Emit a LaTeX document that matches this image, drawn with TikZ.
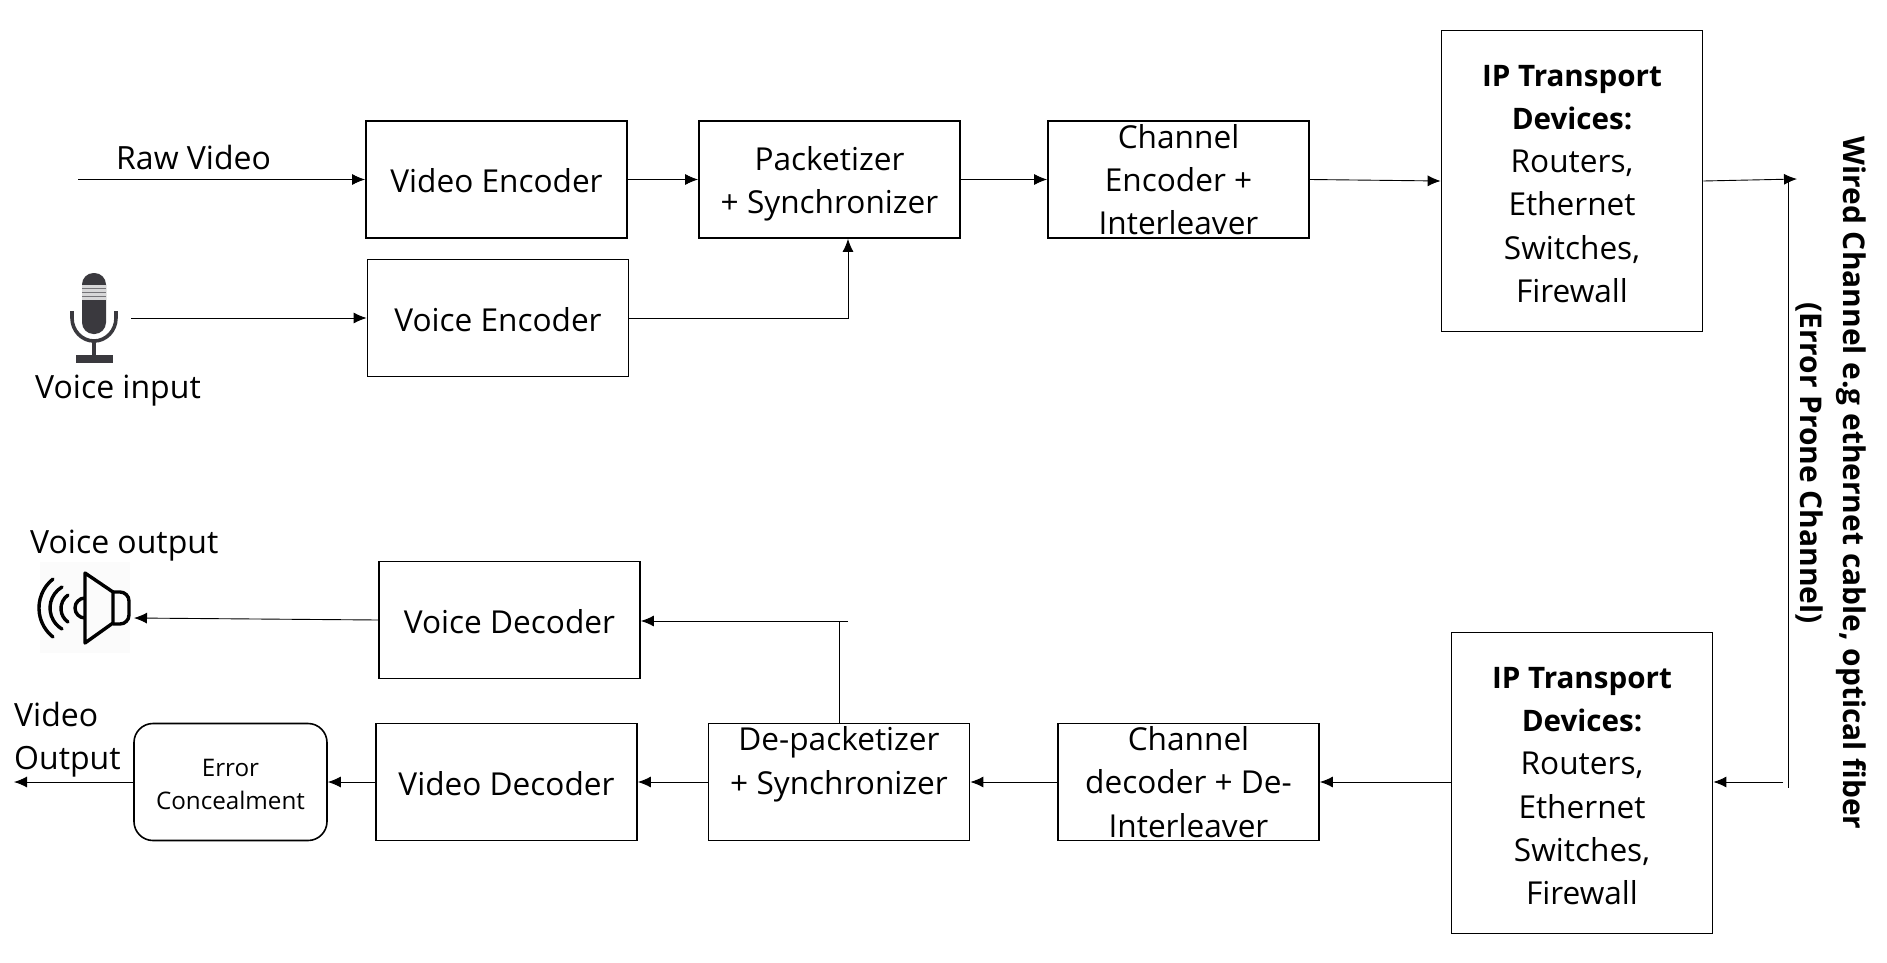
\documentclass[tikz,border=0pt]{standalone}
\usepackage{fontspec}
\setmainfont{Open Sans}
\usetikzlibrary{arrows.meta}
\newcommand{\ipbold}[1]{{\fontsize{29.6}{43.3}\selectfont\textbf{#1}}}
\tikzset{
 x=1pt,y=-1pt,
 blockbox/.style={draw=black,line width=1.8pt,align=center,inner sep=0pt,font=\fontsize{31.6}{43.3}\selectfont,anchor=center},
 lbl/.style={inner sep=0pt,align=left,font=\fontsize{32}{43.3}\selectfont,anchor=west},
 conn/.style={line width=0.9pt,-{Latex[length=13pt,width=11pt]}},
 plain/.style={line width=0.9pt},
}
\definecolor{ink}{HTML}{3A393E}
\begin{document}
\begin{tikzpicture}
\useasboundingbox (0,0) rectangle (1887,963);
\fill[white] (0,0) rectangle (1887,963);
% top row
\node[blockbox,minimum width=261pt,minimum height=117pt] (venc) at (496.5,179.5) {\rule{0pt}{27pt}Video Encoder};
\node[blockbox,minimum width=261pt,minimum height=117pt] (pack) at (829.5,179.5) {\rule{0pt}{32pt}Packetizer\\+ Synchronizer};
\node[blockbox,minimum width=261pt,minimum height=117pt] (cenc) at (1178.5,179.5) {Channel\\Encoder +\\Interleaver};
\node[blockbox,minimum width=261pt,minimum height=117pt] (aenc) at (498,318) {\rule{0pt}{27pt}Voice Encoder};
\node[blockbox,minimum width=261pt,minimum height=301pt] (ip1) at (1572,181) {\rule{0pt}{27pt}\ipbold{IP Transport}\\\ipbold{Devices:}\\Routers,\\Ethernet\\Switches,\\Firewall};
% bottom row
\node[blockbox,minimum width=261pt,minimum height=301pt] (ip2) at (1582,783) {\rule{0pt}{27pt}\ipbold{IP Transport}\\\ipbold{Devices:}\\Routers,\\Ethernet\\Switches,\\Firewall};
\node[blockbox,minimum width=261pt,minimum height=117pt] (cdec) at (1188.5,782) {Channel\\decoder + De-\\Interleaver};
\node[blockbox,minimum width=261pt,minimum height=117pt] (depack) at (839,782) {De-packetizer\\+ Synchronizer\rule[-43pt]{0pt}{0pt}};
\node[blockbox,minimum width=261pt,minimum height=117pt] (vdec) at (506.5,782) {\rule{0pt}{27pt}Video Decoder};
\node[blockbox,minimum width=261pt,minimum height=117pt] (adec) at (509.5,620) {\rule{0pt}{27pt}Voice Decoder};
\node[draw=black,line width=1.6pt,rounded corners=19pt,minimum width=193pt,minimum height=117pt,inner sep=0pt,align=center,font=\fontsize{24.2}{33.5}\selectfont] (err) at (230.5,782) {\rule{0pt}{22pt}Error\\Concealment};
% labels
\node[lbl] (rawl) at (116,157) {Raw Video};
\node[lbl] (voicel) at (35,391) {Voice input};
\node[lbl] (voutl) at (30,546) {Voice output};
\node[lbl] (videol) at (14,740) {Video\\Output};
\node[inner sep=0pt,align=center,rotate=-90,font=\fontsize{29.9}{42.5}\selectfont\bfseries] (wired) at (1831,483) {Wired Channel e.g ethernet cable, optical fiber\\(Error Prone Channel)\hspace*{40pt}};
% free ends
\coordinate (rawstart) at (78,179.5);
\coordinate (micend) at (131,318);
\coordinate (spk) at (134,618);
\coordinate (outend) at (14,782);
\coordinate (tap1) at (1797,179);
\coordinate (tap2) at (1788,180);
\coordinate (chanbot) at (1788,788);
\coordinate (chanend) at (1783,782);
\coordinate (branch) at (848,621);
\coordinate (join) at (839,621);
\coordinate (up) at (848,318);
% connectors
\draw[conn] (rawstart) -- (venc.west);
\draw[conn] (micend) -- (aenc.west);
\draw[conn] (venc.east) -- (pack.west);
\draw[conn] (pack.east) -- (cenc.west);
\draw[conn] (cenc.east) -- (ip1.west);
\draw[conn] (aenc.east) -- (up) -- (up |- pack.south);
\draw[conn] (ip1.east) -- (tap1);
\draw[plain] (tap2) -- (chanbot);
\draw[conn] (chanend) -- (ip2.east |- chanend);
\draw[conn] (ip2.west |- cdec.east) -- (cdec.east);
\draw[conn] (cdec.west) -- (depack.east);
\draw[conn] (depack.west) -- (vdec.east);
\draw[conn] (vdec.west) -- (err.east);
\draw[conn] (err.west) -- (outend);
\draw[plain] (depack.north) -- (join);
\draw[conn] (branch) -- (adec.east |- branch);
\draw[conn] (adec.west) -- (spk);
% microphone
\fill[ink,rounded corners=11.5pt] (82,273) rectangle (106,334);
\fill[white!80!ink] (82,285) rectangle (106,300);
\foreach \yy in {288,292,296}{\fill[ink!70] (82,\yy) rectangle (106,\yy+1);}
\draw[ink,line width=3.6pt] (72,311) -- (72,318) arc[start angle=180,end angle=0,x radius=22,y radius=23] -- (116,311);
\draw[ink,line width=3.6pt] (94,341) -- (94,357);
\fill[ink] (76,355) rectangle (113,363);
% speaker
\fill[black!1.5] (40,562) rectangle (130,653);
\draw[black,line width=3.4pt,line join=round] (85,573) -- (85,643) -- (113,623) -- (113,592) -- cycle;
\draw[black,line width=3.4pt,line join=round] (113,592) -- (120,592) arc[start angle=-90,end angle=0,radius=9] -- (129,615) arc[start angle=0,end angle=90,radius=9] -- (113,624);
\draw[black,line width=3.4pt] (85,598) arc[start angle=270,end angle=90,x radius=10,y radius=10];
\draw[black,line width=3.4pt,line cap=round] (68,595) arc[start angle=235,end angle=125,radius=16.5];
\draw[black,line width=3.4pt,line cap=round] (62,587) arc[start angle=239.4,end angle=120.6,radius=24.4];
\draw[black,line width=3.4pt,line cap=round] (53,579) arc[start angle=231.6,end angle=128.4,radius=37];
\end{tikzpicture}
\end{document}
